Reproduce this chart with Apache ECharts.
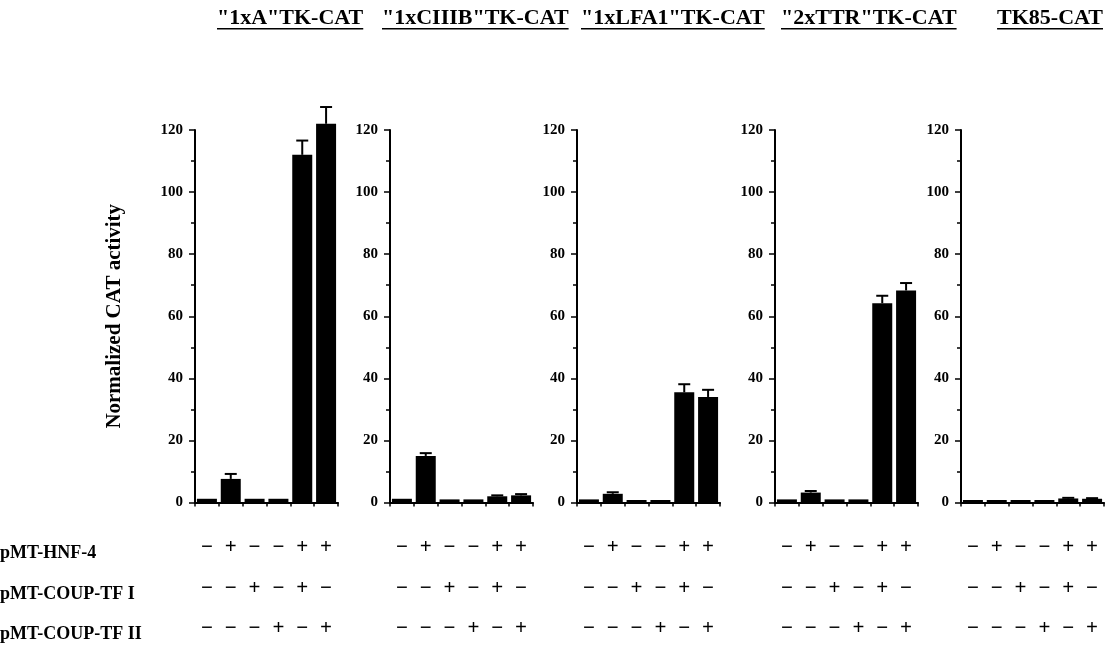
<!DOCTYPE html>
<html><head><meta charset="utf-8">
<script src="https://cdn.jsdelivr.net/npm/echarts@6/dist/echarts.min.js"></script>
<style>html,body{margin:0;padding:0;background:#fff}#c{width:1107px;height:649px}</style>
</head><body><div id="c"></div>
<script>
// ---- data ----
const panelTitles = ['"1xA"TK-CAT', '"1xCIIIB"TK-CAT', '"1xLFA1"TK-CAT', '"2xTTR"TK-CAT', 'TK85-CAT'];
const conditions = ['1', '2', '3', '4', '5', '6'];
const hnf4    = ['−', '+', '−', '−', '+', '+'];
const coupTF1 = ['−', '−', '+', '−', '+', '−'];
const coupTF2 = ['−', '−', '−', '+', '−', '+'];
const rowLabels = ['pMT-HNF-4', 'pMT-COUP-TF I', 'pMT-COUP-TF II'];
const yAxisName = 'Normalized CAT activity';
const yMin = 0, yMax = 120, yStep = 20;

const vals1xA    = [1.2, 7.6, 1.2, 1.2, 112, 122];
const err1xA     = [0, 1.6, 0, 0, 4.6, 5.4];
const vals1xCIIIB = [1.2, 15.0, 1.0, 1.0, 2.0, 2.3];
const err1xCIIIB  = [0, 0.9, 0, 0, 0.3, 0.4];
const vals1xLFA1 = [1.0, 2.8, 0.8, 0.8, 35.5, 34.0];
const err1xLFA1  = [0, 0.5, 0, 0, 2.6, 2.3];
const vals2xTTR  = [1.0, 3.2, 1.0, 1.0, 64.2, 68.3];
const err2xTTR   = [0, 0.5, 0, 0, 2.4, 2.4];
const valsTK85   = [0.8, 0.8, 0.8, 0.8, 1.3, 1.2];
const errTK85    = [0, 0, 0, 0, 0.2, 0.2];

const panelValues = [vals1xA, vals1xCIIIB, vals1xLFA1, vals2xTTR, valsTK85];
const panelErrors = [err1xA, err1xCIIIB, err1xLFA1, err2xTTR, errTK85];

// ---- layout ----
const gridLefts = [195, 390, 577, 775, 961];
const gridWidth = 143;
const gridTop = 130, gridHeight = 377;
const titleX = [217, 382, 581, 781, 1103];
const titleAlign = ['left', 'left', 'left', 'left', 'right'];
const SERIF = '"Liberation Serif", "Times New Roman", serif';

const chart = echarts.init(document.getElementById('c'), null, {renderer: 'canvas'});

const grids = [], xAxes = [], yAxes = [], series = [];
gridLefts.forEach((left, p) => {
  grids.push({left: left, top: gridTop, width: gridWidth, height: gridHeight});
  xAxes.push({
    type: 'category', gridIndex: p, data: conditions,
    axisLine: {lineStyle: {color: '#000', width: 2}},
    axisTick: {show: true, length: 4, lineStyle: {color: '#000', width: 1.5}},
    axisLabel: {
      interval: 0, margin: 25, color: '#000',
      fontFamily: SERIF, fontWeight: 'bold', fontSize: 21, lineHeight: 40.5,
      formatter: (v, i) => hnf4[i] + '\n' + coupTF1[i] + '\n' + coupTF2[i]
    }
  });
  yAxes.push({
    type: 'value', gridIndex: p, min: yMin, max: yMax, interval: yStep,
    name: p === 0 ? yAxisName : '',
    nameLocation: 'middle', nameGap: 70, nameRotate: 90,
    nameTextStyle: {fontFamily: SERIF, fontWeight: 'bold', fontSize: 21, color: '#000'},
    axisLine: {show: true, lineStyle: {color: '#000', width: 2}},
    axisTick: {show: true, length: 6, lineStyle: {color: '#000', width: 1.5}},
    minorTick: {show: true, splitNumber: 2, length: 4, lineStyle: {color: '#000', width: 1.5}},
    splitLine: {show: false},
    axisLabel: {margin: 12, color: '#000', fontFamily: SERIF, fontWeight: 'bold', fontSize: 15}
  });
  series.push({
    type: 'bar', xAxisIndex: p, yAxisIndex: p, data: panelValues[p], clip: false,
    barWidth: 20, itemStyle: {color: '#000'}, silent: true, animation: false
  });
  series.push({
    type: 'custom', xAxisIndex: p, yAxisIndex: p, animation: false, silent: true, clip: false,
    data: panelValues[p].map((v, i) => [i, v, panelErrors[p][i]]),
    encode: {x: 0, y: 1},
    renderItem: (params, api) => {
      const i = api.value(0), v = api.value(1), e = api.value(2);
      if (!e) return null;
      const a = api.coord([i, v]), b = api.coord([i, v + e]);
      const half = 6;
      return {type: 'group', children: [
        {type: 'line', shape: {x1: a[0], y1: a[1], x2: b[0], y2: b[1]}, style: {stroke: '#000', lineWidth: 2}},
        {type: 'line', shape: {x1: b[0] - half, y1: b[1], x2: b[0] + half, y2: b[1]}, style: {stroke: '#000', lineWidth: 2}}
      ]};
    }
  });
});

// titles with underline
const meas = document.createElement('canvas').getContext('2d');
const titleFont = 'bold 22px ' + SERIF;
meas.font = titleFont;
const graphics = [];
panelTitles.forEach((t, p) => {
  const w = meas.measureText(t).width;
  const x0 = titleAlign[p] === 'right' ? titleX[p] - w : titleX[p];
  graphics.push({type: 'text', x: x0, y: 18, style: {text: t, font: titleFont, fill: '#000', textVerticalAlign: 'middle'}});
  graphics.push({type: 'rect', shape: {x: x0, y: 28, width: w, height: 1.6}, style: {fill: '#000'}});
});
const rowY = [553, 594, 634];
rowLabels.forEach((t, r) => {
  graphics.push({type: 'text', x: 0, y: rowY[r], style: {text: t, font: 'bold 18px ' + SERIF, fill: '#000', textVerticalAlign: 'middle'}});
});

chart.setOption({
  animation: false,
  grid: grids, xAxis: xAxes, yAxis: yAxes, series: series,
  graphic: graphics
});
</script>
</body></html>
